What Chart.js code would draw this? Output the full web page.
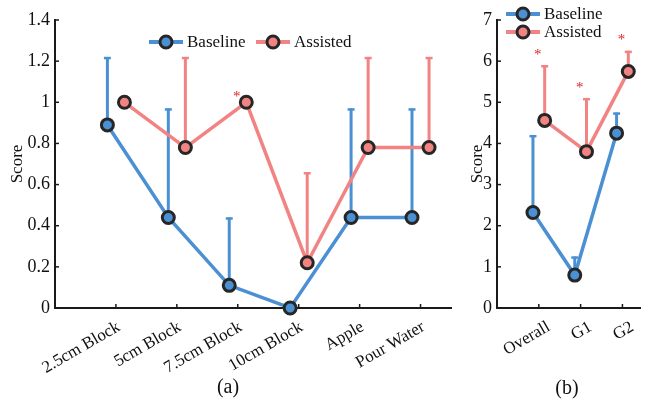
<!DOCTYPE html>
<html>
<head>
<meta charset="utf-8">
<script src="https://cdn.jsdelivr.net/npm/chart.js@4.4.0/dist/chart.umd.min.js"></script>
<style>
    body { margin: 0; background: #fff; width: 649px; height: 403px; position: relative; overflow: hidden; }
    .wrap { position: absolute; top: 0; height: 403px; }
    #wrapA { left: 0; width: 460px; }
    #wrapB { left: 460px; width: 189px; }
</style>
</head>
<body>
<div class="wrap" id="wrapA"><canvas id="chartA"></canvas></div>
<div class="wrap" id="wrapB"><canvas id="chartB"></canvas></div>
<script>
// Panel (a) data
const tasks = ['2.5cm Block', '5cm Block', '7.5cm Block', '10cm Block', 'Apple', 'Pour Water'];
const baselineA = [0.89, 0.44, 0.11, 0, 0.44, 0.44];
const baselineTopA = [1.22, 0.97, 0.44, null, 0.97, 0.97];
const assistedA = [1.0, 0.78, 1.0, 0.22, 0.78, 0.78];
const assistedTopA = [null, 1.22, null, 0.66, 1.22, 1.22];
const starsA = [null, null, 1.04, null, null, null];
const yTicksA = ['0', '0.2', '0.4', '0.6', '0.8', '1', '1.2', '1.4'];

// Panel (b) data
const groups = ['Overall', 'G1', 'G2'];
const baselineB = [2.32, 0.8, 4.25];
const baselineTopB = [4.2, 1.25, 4.75];
const assistedB = [4.56, 3.8, 5.75];
const assistedTopB = [5.9, 5.1, 6.25];
const starsB = [6.22, 5.42, 6.59];
const yTicksB = ['0', '1', '2', '3', '4', '5', '6', '7'];

const BLUE = '#4a90d2';
const PINK = '#f28383';
const MARK = '#262626';
const AXIS = '#1a1a1a';
const FONT = '"Liberation Serif", "Times New Roman", serif';
const SHIFT = 0.14;

// Build {x, y} points with a small left/right offset per series
function toPoints(values, offset) {
    return values.map((v, i) => ({ x: i + 1 + offset, y: v }));
}

function makeDataset(label, values, tops, offset, color, order) {
    return {
        label: label,
        data: toPoints(values, offset),
        errTop: tops,
        borderColor: color,
        backgroundColor: color,
        borderWidth: 3.5,
        pointRadius: 6,
        pointBorderWidth: 3,
        pointBackgroundColor: color,
        pointBorderColor: MARK,
        tension: 0,
        clip: false,
        order: order
    };
}

// Error bars (upper only), inward ticks, stars, legend and panel label
const decorations = {
    id: 'decorations',
    beforeDatasetDraw(chart, args) {
        const { ctx, scales: { x, y } } = chart;
        const ds = chart.data.datasets[args.index];
        ctx.save();
        ctx.strokeStyle = ds.borderColor;
        ds.data.forEach((p, i) => {
            const top = ds.errTop[i];
            if (top == null) return;
            const px = x.getPixelForValue(p.x);
            const y0 = y.getPixelForValue(p.y);
            const y1 = y.getPixelForValue(top);
            ctx.lineWidth = 3;
            ctx.beginPath();
            ctx.moveTo(px, y0);
            ctx.lineTo(px, y1);
            ctx.stroke();
            ctx.lineWidth = 2.5;
            ctx.beginPath();
            ctx.moveTo(px - 3.5, y1 + 1);
            ctx.lineTo(px + 3.5, y1 + 1);
            ctx.stroke();
        });
        ctx.restore();
    },
    afterDraw(chart, args, opts) {
        const { ctx, chartArea, scales: { x, y } } = chart;
        ctx.save();
        // inward ticks
        ctx.strokeStyle = AXIS;
        ctx.lineWidth = 1.5;
        x.ticks.forEach(t => {
            const px = x.getPixelForValue(t.value);
            ctx.beginPath();
            ctx.moveTo(px, chartArea.bottom);
            ctx.lineTo(px, chartArea.bottom - 4);
            ctx.stroke();
        });
        y.ticks.forEach(t => {
            const py = y.getPixelForValue(t.value);
            ctx.beginPath();
            ctx.moveTo(chartArea.left, py);
            ctx.lineTo(chartArea.left + 4, py);
            ctx.stroke();
        });
        // significance stars
        ctx.fillStyle = '#e02424';
        ctx.font = '15px ' + FONT;
        ctx.textAlign = 'center';
        ctx.textBaseline = 'middle';
        opts.stars.forEach((s, i) => {
            if (s == null) return;
            ctx.fillText('*', x.getPixelForValue(i + 1) - 1, y.getPixelForValue(s) + 3);
        });
        // legend
        ctx.font = '17px ' + FONT;
        ctx.textAlign = 'left';
        chart.data.datasets.forEach((ds, i) => {
            const pos = opts.legend[i];
            ctx.strokeStyle = ds.borderColor;
            ctx.lineWidth = 4;
            ctx.beginPath();
            ctx.moveTo(pos.x, pos.y);
            ctx.lineTo(pos.x + 34, pos.y);
            ctx.stroke();
            ctx.beginPath();
            ctx.arc(pos.x + 17, pos.y, 6, 0, Math.PI * 2);
            ctx.fillStyle = ds.borderColor;
            ctx.fill();
            ctx.lineWidth = 3;
            ctx.strokeStyle = MARK;
            ctx.stroke();
            ctx.fillStyle = '#111';
            ctx.fillText(ds.label, pos.x + 38, pos.y + 1);
        });
        // panel label
        ctx.font = '20px ' + FONT;
        ctx.textAlign = 'center';
        ctx.fillText(opts.panel.text, opts.panel.x, opts.panel.y);
        ctx.restore();
    }
};

function makeOptions(labels, yMax, yStep, yTicks, xMax, yWidth, labelShift, legend, panel, stars) {
    return {
        responsive: true,
        maintainAspectRatio: false,
        animation: false,
        layout: { padding: { top: 20, right: 0, left: 0, bottom: 0 } },
        plugins: {
            legend: { display: false },
            tooltip: { enabled: false },
            decorations: { legend: legend, panel: panel, stars: stars }
        },
        scales: {
            x: {
                type: 'linear',
                min: 0,
                max: xMax,
                afterBuildTicks: (scale) => {
                    scale.ticks = labels.map((l, i) => ({ value: i + 1 }));
                },
                afterFit: (scale) => { scale.height = 95; },
                ticks: {
                    autoSkip: false,
                    minRotation: 30,
                    maxRotation: 30,
                    padding: 9,
                    labelOffset: labelShift,
                    color: '#111',
                    font: { family: FONT, size: 17 },
                    callback: (v) => labels[Math.round(v) - 1] || ''
                },
                grid: { display: true, drawOnChartArea: false, drawTicks: false },
                border: { color: AXIS, width: 2 }
            },
            y: {
                min: 0,
                max: yMax,
                afterBuildTicks: (scale) => {
                    scale.ticks = yTicks.map((t, i) => ({ value: i * yStep }));
                },
                afterFit: (scale) => { scale.width = yWidth; },
                ticks: {
                    padding: 5,
                    color: '#111',
                    font: { family: FONT, size: 18 },
                    callback: (v, i) => yTicks[i]
                },
                title: {
                    display: true,
                    text: 'Score',
                    color: '#111',
                    font: { family: FONT, size: 17 },
                    padding: { top: 7, bottom: 0 }
                },
                grid: { display: true, drawOnChartArea: false, drawTicks: false },
                border: { color: AXIS, width: 2 }
            }
        }
    };
}

new Chart(document.getElementById('chartA'), {
    type: 'line',
    data: {
        datasets: [
            makeDataset('Baseline', baselineA, baselineTopA, -SHIFT, BLUE, 1),
            makeDataset('Assisted', assistedA, assistedTopA, SHIFT, PINK, 0)
        ]
    },
    options: makeOptions(tasks, 1.4, 0.2, yTicksA, 6.5, 55, 3,
        [{ x: 149, y: 42 }, { x: 256, y: 42 }],
        { text: '(a)', x: 228, y: 388 }, starsA),
    plugins: [decorations]
});

new Chart(document.getElementById('chartB'), {
    type: 'line',
    data: {
        datasets: [
            makeDataset('Baseline', baselineB, baselineTopB, -SHIFT, BLUE, 1),
            makeDataset('Assisted', assistedB, assistedTopB, SHIFT, PINK, 0)
        ]
    },
    options: makeOptions(groups, 7, 1, yTicksB, 3.42, 37, 10,
        [{ x: 46, y: 14 }, { x: 46, y: 32 }],
        { text: '(b)', x: 107, y: 389 }, starsB),
    plugins: [decorations]
});
</script>
</body>
</html>
